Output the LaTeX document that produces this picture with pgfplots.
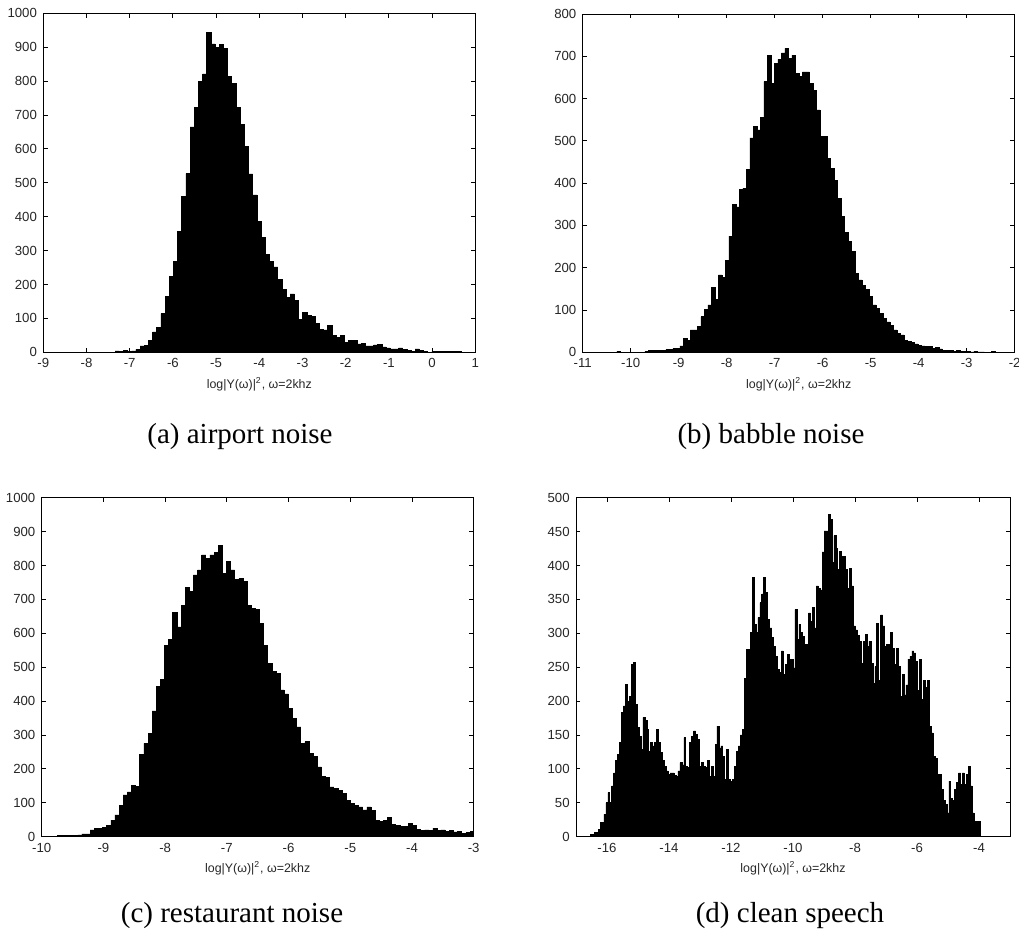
\documentclass[border=0pt]{standalone}
\usepackage{fontspec}
\setmainfont{Liberation Serif}
\newfontfamily\plotfont{Liberation Sans}
\usepackage{pgfplots}
\usepackage{pgfplotstable}
\pgfplotsset{compat=1.18}

\pgfplotstableread{
x y
-7.339 4
-7.243 2
-7.146 6
-7.050 2
-6.953 4
-6.857 9
-6.760 19
-6.664 20
-6.567 34
-6.471 60
-6.374 73
-6.278 114
-6.181 164
-6.085 223
-5.988 268
-5.892 357
-5.795 459
-5.699 527
-5.602 665
-5.506 723
-5.409 800
-5.313 821
-5.216 943
-5.120 910
-5.023 899
-4.927 908
-4.830 896
-4.734 813
-4.637 793
-4.541 722
-4.444 673
-4.348 607
-4.251 526
-4.155 464
-4.058 385
-3.962 339
-3.865 288
-3.769 269
-3.672 252
-3.576 215
-3.479 186
-3.383 161
-3.286 172
-3.190 152
-3.093 98
-2.997 118
-2.900 109
-2.804 107
-2.707 86
-2.611 68
-2.514 66
-2.418 80
-2.321 50
-2.225 44
-2.128 50
-2.032 28
-1.935 35
-1.839 36
-1.742 25
-1.646 27
-1.549 19
-1.453 19
-1.356 22
-1.260 24
-1.163 16
-1.067 13
-0.970 10
-0.874 10
-0.777 13
-0.681 8
-0.584 6
-0.488 2
-0.391 10
-0.295 5
-0.198 2
-0.102 0
-0.005 3
0.092 2
0.188 3
0.285 2
0.381 3
0.478 3
0.574 3
0.671 3
}\dataA

\pgfplotstableread{
x y
-10.287 3
-10.214 0
-10.141 0
-10.069 0
-9.996 0
-9.923 0
-9.850 0
-9.777 0
-9.704 2
-9.631 5
-9.558 5
-9.485 4
-9.412 4
-9.340 5
-9.267 7
-9.194 7
-9.121 9
-9.048 9
-8.975 15
-8.902 33
-8.829 29
-8.756 53
-8.683 53
-8.611 61
-8.538 84
-8.465 102
-8.392 112
-8.319 154
-8.246 125
-8.173 183
-8.100 177
-8.027 217
-7.954 275
-7.882 350
-7.809 344
-7.736 385
-7.663 388
-7.590 433
-7.517 507
-7.444 535
-7.371 526
-7.298 556
-7.225 640
-7.153 703
-7.080 636
-7.007 683
-6.934 693
-6.861 708
-6.788 719
-6.715 695
-6.642 703
-6.569 660
-6.496 653
-6.424 663
-6.351 663
-6.278 636
-6.205 620
-6.132 573
-6.059 511
-5.986 510
-5.913 459
-5.840 435
-5.767 407
-5.695 364
-5.622 321
-5.549 283
-5.476 262
-5.403 238
-5.330 187
-5.257 171
-5.184 159
-5.111 149
-5.038 132
-4.966 112
-4.893 104
-4.820 92
-4.747 80
-4.674 72
-4.601 63
-4.528 53
-4.455 45
-4.382 41
-4.309 29
-4.237 25
-4.164 23
-4.091 20
-4.018 17
-3.945 15
-3.872 13
-3.799 13
-3.726 9
-3.653 11
-3.580 8
-3.508 5
-3.435 4
-3.362 5
-3.289 3
-3.216 4
-3.143 3
-3.070 2
-2.997 2
-2.924 1
-2.851 2
-2.779 1
-2.706 1
-2.633 0
-2.560 0
-2.487 3
-2.414 3
}\dataB

\pgfplotstableread{
x y
-9.950 1
-9.883 1
-9.816 2
-9.749 3
-9.682 3
-9.615 4
-9.548 4
-9.482 4
-9.415 5
-9.348 8
-9.281 8
-9.214 20
-9.147 24
-9.080 24
-9.013 28
-8.946 34
-8.879 49
-8.813 64
-8.746 93
-8.679 123
-8.612 132
-8.545 152
-8.478 148
-8.411 243
-8.344 275
-8.277 305
-8.210 371
-8.144 443
-8.077 464
-8.010 565
-7.943 582
-7.876 661
-7.809 619
-7.742 683
-7.675 735
-7.608 723
-7.541 772
-7.475 787
-7.408 831
-7.341 821
-7.274 831
-7.207 838
-7.140 860
-7.073 777
-7.006 812
-6.939 787
-6.872 759
-6.806 762
-6.739 752
-6.672 683
-6.605 673
-6.538 670
-6.471 629
-6.404 565
-6.337 511
-6.270 487
-6.203 482
-6.137 433
-6.070 421
-6.003 379
-5.936 349
-5.869 324
-5.802 275
-5.735 280
-5.668 246
-5.601 238
-5.534 206
-5.468 177
-5.401 175
-5.334 147
-5.267 143
-5.200 136
-5.133 128
-5.066 108
-4.999 98
-4.932 93
-4.865 88
-4.799 79
-4.732 88
-4.665 77
-4.598 49
-4.531 44
-4.464 49
-4.397 57
-4.330 37
-4.263 34
-4.196 31
-4.130 30
-4.063 39
-3.996 34
-3.929 22
-3.862 18
-3.795 20
-3.728 18
-3.661 25
-3.594 18
-3.527 20
-3.461 15
-3.394 18
-3.327 14
-3.260 15
-3.193 10
-3.126 12
-3.059 15
-2.992 15
}\dataC

\pgfplotstableread{
x y
-16.539 3
-16.476 3
-16.413 6
-16.350 6
-16.288 11
-16.225 21
-16.162 21
-16.099 33
-16.036 50
-15.973 65
-15.910 50
-15.848 75
-15.785 94
-15.722 112
-15.659 121
-15.596 139
-15.533 183
-15.470 193
-15.408 225
-15.345 200
-15.282 207
-15.219 254
-15.156 257
-15.093 195
-15.030 161
-14.967 148
-14.905 129
-14.842 176
-14.779 171
-14.716 158
-14.653 126
-14.590 139
-14.527 134
-14.465 139
-14.402 158
-14.339 139
-14.276 124
-14.213 112
-14.150 104
-14.087 97
-14.025 92
-13.962 94
-13.899 94
-13.836 90
-13.773 89
-13.710 97
-13.647 109
-13.585 106
-13.522 146
-13.459 104
-13.396 102
-13.333 139
-13.270 148
-13.207 156
-13.145 151
-13.082 144
-13.019 104
-12.956 109
-12.893 104
-12.830 102
-12.767 112
-12.705 89
-12.642 104
-12.579 89
-12.516 136
-12.453 163
-12.390 131
-12.327 134
-12.265 119
-12.202 85
-12.139 129
-12.076 85
-12.013 82
-11.950 85
-11.887 104
-11.824 126
-11.762 134
-11.699 150
-11.636 158
-11.573 234
-11.510 276
-11.447 276
-11.384 301
-11.322 382
-11.259 313
-11.196 301
-11.133 323
-11.070 345
-11.007 358
-10.944 382
-10.882 360
-10.819 320
-10.756 308
-10.693 294
-10.630 281
-10.567 266
-10.504 247
-10.442 242
-10.379 274
-10.316 239
-10.253 254
-10.190 269
-10.127 262
-10.064 262
-10.002 249
-9.939 335
-9.876 291
-9.813 313
-9.750 301
-9.687 296
-9.624 284
-9.562 284
-9.499 330
-9.436 318
-9.373 338
-9.310 308
-9.247 370
-9.184 366
-9.122 364
-9.059 420
-8.996 451
-8.933 451
-8.870 475
-8.807 468
-8.744 404
-8.681 444
-8.619 425
-8.556 394
-8.493 421
-8.430 413
-8.367 413
-8.304 394
-8.241 366
-8.179 396
-8.116 370
-8.053 311
-7.990 305
-7.927 297
-7.864 288
-7.801 256
-7.739 288
-7.676 298
-7.613 281
-7.550 288
-7.487 256
-7.424 226
-7.361 251
-7.299 315
-7.236 231
-7.173 327
-7.110 311
-7.047 281
-6.984 284
-6.921 284
-6.859 301
-6.796 278
-6.733 254
-6.670 278
-6.607 251
-6.544 207
-6.481 239
-6.419 209
-6.356 224
-6.293 262
-6.230 266
-6.167 274
-6.104 271
-6.041 259
-5.979 216
-5.916 262
-5.853 202
-5.790 231
-5.727 220
-5.664 231
-5.601 163
-5.538 153
-5.476 119
-5.413 116
-5.350 92
-5.287 92
-5.224 70
-5.161 53
-5.098 48
-5.036 35
-4.973 82
-4.910 57
-4.847 53
-4.784 70
-4.721 80
-4.658 94
-4.596 77
-4.533 94
-4.470 77
-4.407 92
-4.344 104
-4.281 75
-4.218 35
-4.156 23
-4.093 23
-4.030 23
-3.967 23
}\dataD

\pgfplotsset{
  hist/.style={
    scale only axis,
    anchor=south west,
    axis line style={black, line width=0.45pt},
    tick style={black, line width=0.45pt},
    major tick length=2.2pt,
    tick align=inside,
    ymin=0,
    ticklabel style={font=\plotfont\fontsize{6.6}{7.5}\selectfont, text=black!85},
    /pgf/number format/assume math mode=true,
    /pgf/number format/set thousands separator={},
    scaled ticks=false,
    xticklabel style={inner sep=0pt, yshift=-3pt},
    yticklabel style={inner sep=0pt, xshift=-3pt},
    xlabel={log|Y(ω)|\textsuperscript{2}, ω=2khz},
    xlabel style={font=\plotfont\fontsize{6.2}{7}\selectfont, text=black!85,
      at={(axis description cs:0.5,0)}, anchor=base, yshift=-18pt, inner sep=0pt},
  },
  histbars/.style={const plot, fill=black, draw=black, line width=0.3pt},
}

\begin{document}
\begin{tikzpicture}
\useasboundingbox (0,0) rectangle (509.5pt,466pt);

% (a) airport noise
\begin{axis}[hist, at={(21.65pt,289.85pt)}, width=216pt, height=169.5pt,
  xmin=-9, xmax=1, ymax=1000, xtick={-9,-8,...,1}, ytick={0,100,...,1000}]
\addplot[histbars] table {\dataA} \closedcycle;
\end{axis}

% (b) babble noise
\begin{axis}[hist, at={(291.35pt,289.85pt)}, width=216pt, height=169.15pt,
  xmin=-11, xmax=-2, ymax=800, xtick={-11,-10,...,-2}, ytick={0,100,...,800}]
\addplot[histbars] table {\dataB} \closedcycle;
\end{axis}

% (c) restaurant noise
\begin{axis}[hist, at={(20.85pt,47.65pt)}, width=216pt, height=169.5pt,
  xmin=-10, xmax=-3, ymax=1000, xtick={-10,-9,...,-3}, ytick={0,100,...,1000}]
\addplot[histbars] table {\dataC} \closedcycle;
\end{axis}

% (d) clean speech
\begin{axis}[hist, at={(288pt,47.65pt)}, width=217pt, height=169.5pt,
  xmin=-17, xmax=-3, xtick={-16,-14,...,-4}, ymax=500, ytick={0,50,...,500}]
\addplot[histbars] table {\dataD} \closedcycle;
\end{axis}

\begin{scope}[every node/.style={anchor=base, inner sep=0pt, font=\fontsize{14.5}{17}\selectfont}]
\node at (120pt,244pt) {(a) airport noise};
\node at (385.5pt,244pt) {(b) babble noise};
\node at (116pt,4.5pt) {(c) restaurant noise};
\node at (395pt,4.5pt) {(d) clean speech};
\end{scope}
\end{tikzpicture}
\end{document}
